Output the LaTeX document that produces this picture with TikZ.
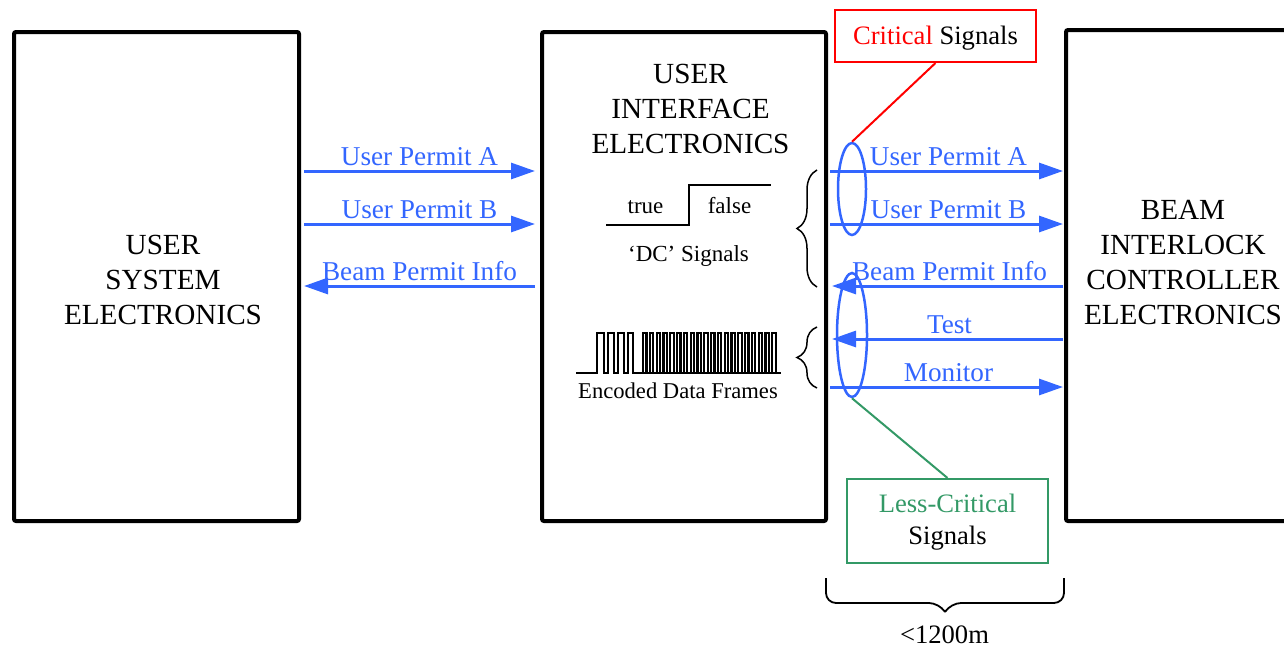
\documentclass[tikz,border=0pt]{standalone}
\usepackage{fontspec}
\setmainfont{Liberation Serif}
\usetikzlibrary{arrows.meta,shapes.geometric,decorations.pathreplacing}
\definecolor{sigblue}{RGB}{51,102,255}
\definecolor{critred}{RGB}{255,0,0}
\definecolor{lessgreen}{RGB}{51,153,102}
\begin{document}
\begin{tikzpicture}[x=0.5pt,y=-0.5pt,
  box/.style={draw, line width=2pt, rounded corners=1pt, inner sep=0pt},
  big/.style={font=\fontsize{14.6}{17.5}\selectfont, anchor=base, inner sep=0pt},
  sml/.style={font=\fontsize{11.5}{13}\selectfont, anchor=base, inner sep=0pt},
  mid/.style={font=\fontsize{13.3}{16}\selectfont, anchor=base, inner sep=0pt},
  sig/.style={draw=sigblue, line width=1.5pt, -{Triangle[length=12pt,width=8pt]}},
  siglbl/.style={font=\fontsize{13.6}{16}\selectfont, anchor=base, inner sep=0pt, text=sigblue, yshift=3pt},
  oval/.style={draw=sigblue, line width=1.25pt, ellipse, inner sep=0pt},
  callout/.style={draw, line width=1pt, inner sep=0pt, minimum width=100.5pt},
  brc/.style={draw, line width=0.75pt, decorate, decoration={brace, amplitude=10pt}},
  wave/.style={draw, line width=1.1pt, line join=miter}
]
\useasboundingbox (0,0) rectangle (1284,648);

% main boxes
\node[box, minimum width=142.5pt, minimum height=244.5pt] (usr) at (156.5,276.5) {};
\node[box, minimum width=142pt, minimum height=244.5pt] (uie) at (684,276.5) {};
\node[box, minimum width=143pt, minimum height=245.5pt] (bic) at (1209,275.5) {};

% box texts
\node[big] (u1) at (163,254) {USER};
\node[big] (u2) at (163,289) {SYSTEM};
\node[big] (u3) at (163,324) {ELECTRONICS};
\node[big] (m1) at (690.5,83) {USER};
\node[big] (m2) at (690.5,118) {INTERFACE};
\node[big] (m3) at (690.5,153) {ELECTRONICS};
\node[big] (r1) at (1183,219) {BEAM};
\node[big] (r2) at (1183,254) {INTERLOCK};
\node[big] (r3) at (1183,289) {CONTROLLER};
\node[big] (r4) at (1183,324) {ELECTRONICS};

% connector end points
\coordinate (la1) at (304,171);  \coordinate (la2) at (535,171);
\coordinate (lb1) at (304,224);  \coordinate (lb2) at (535,224);
\coordinate (lc1) at (304,286);  \coordinate (lc2) at (535,286);
\coordinate (ra1) at (830,171);  \coordinate (ra2) at (1063,171);
\coordinate (rb1) at (830,224);  \coordinate (rb2) at (1063,224);
\coordinate (rc1) at (832,286);  \coordinate (rc2) at (1063,286);
\coordinate (rd1) at (832,339);  \coordinate (rd2) at (1063,339);
\coordinate (re1) at (830,387);  \coordinate (re2) at (1063,387);

% left arrows
\draw[sig] (la1) -- (la2) node[midway, siglbl] (lla) {User Permit A};
\draw[sig] (lb1) -- (lb2) node[midway, siglbl] (llb) {User Permit B};
\draw[sig] (lc2) -- (lc1) node[midway, siglbl] (llc) {Beam Permit Info};

% right arrows
\draw[sig] (ra1) -- (ra2) node[midway, siglbl, xshift=1pt] (lra) {User Permit A};
\draw[sig] (rb1) -- (rb2) node[midway, siglbl, xshift=1pt] (lrb) {User Permit B};
\draw[sig] (rc2) -- (rc1) node[midway, siglbl, xshift=1pt] (lrc) {Beam Permit Info};
\draw[sig] (rd2) -- (rd1) node[midway, siglbl, xshift=1pt] (lrd) {Test};
\draw[sig] (re1) -- (re2) node[midway, siglbl, xshift=1pt] (lre) {Monitor};

% ellipses
\node[oval, minimum width=14pt, minimum height=46pt] (e1) at (852,189) {};
\node[oval, minimum width=15pt, minimum height=62pt] (e2) at (852,335) {};

% callout boxes
\node[callout, draw=critred, minimum height=26pt] (crit) at (935.5,36) {};
\node[mid] (critt) at (935.5,44) {\textcolor{critred}{Critical} Signals};
\node[callout, draw=lessgreen, minimum height=42pt] (less) at (947.5,521) {};
\node[mid, text=lessgreen] (lesst1) at (947.5,512) {Less-Critical};
\node[mid] (lesst2) at (947.5,544) {Signals};
\draw[critred, line width=1pt] (e1.north) -- (crit.south);
\draw[lessgreen, line width=1pt] (e2.south) -- (less.north);

% DC signal
\draw[line width=1pt] (606,225) -- (689,225) -- (689,185) -- (771,185);
\node[sml] (tru) at (645.5,213) {true};
\node[sml] (fal) at (729.5,213) {false};
\node[sml] (dcs) at (688.5,261) {‘DC’ Signals};

% encoded waveform
\draw[wave] (576,373) -- (597,373) -- (597,333) -- (604,333) -- (604,373)
  -- (608,373) -- (608,333) -- (614,333) -- (614,373)
  -- (618,373) -- (618,333) -- (624,333) -- (624,373)
  -- (628,373) -- (628,333) -- (633,333) -- (633,373) -- (781,373);
\foreach \i in {0,...,19} {
  \draw[wave] (643+6.8*\i,373) -- ++(0,-40) -- ++(3.4,0) -- ++(0,40);
}
\node[sml, font=\fontsize{11.3}{13}\selectfont] (edf) at (678,398) {Encoded Data Frames};

% braces
\draw[brc] (817,287) -- (817,170);
\draw[brc] (817,388) -- (817,327);
\draw[line width=0.9pt, rounded corners=5pt] (826,578) -- (826,603) -- (939,603) -- (945,612);
\draw[line width=0.9pt, rounded corners=5pt] (1064,578) -- (1064,603) -- (951,603) -- (945,612);
\node[mid] (dist) at (944.5,643) {<1200m};
\end{tikzpicture}
\end{document}
